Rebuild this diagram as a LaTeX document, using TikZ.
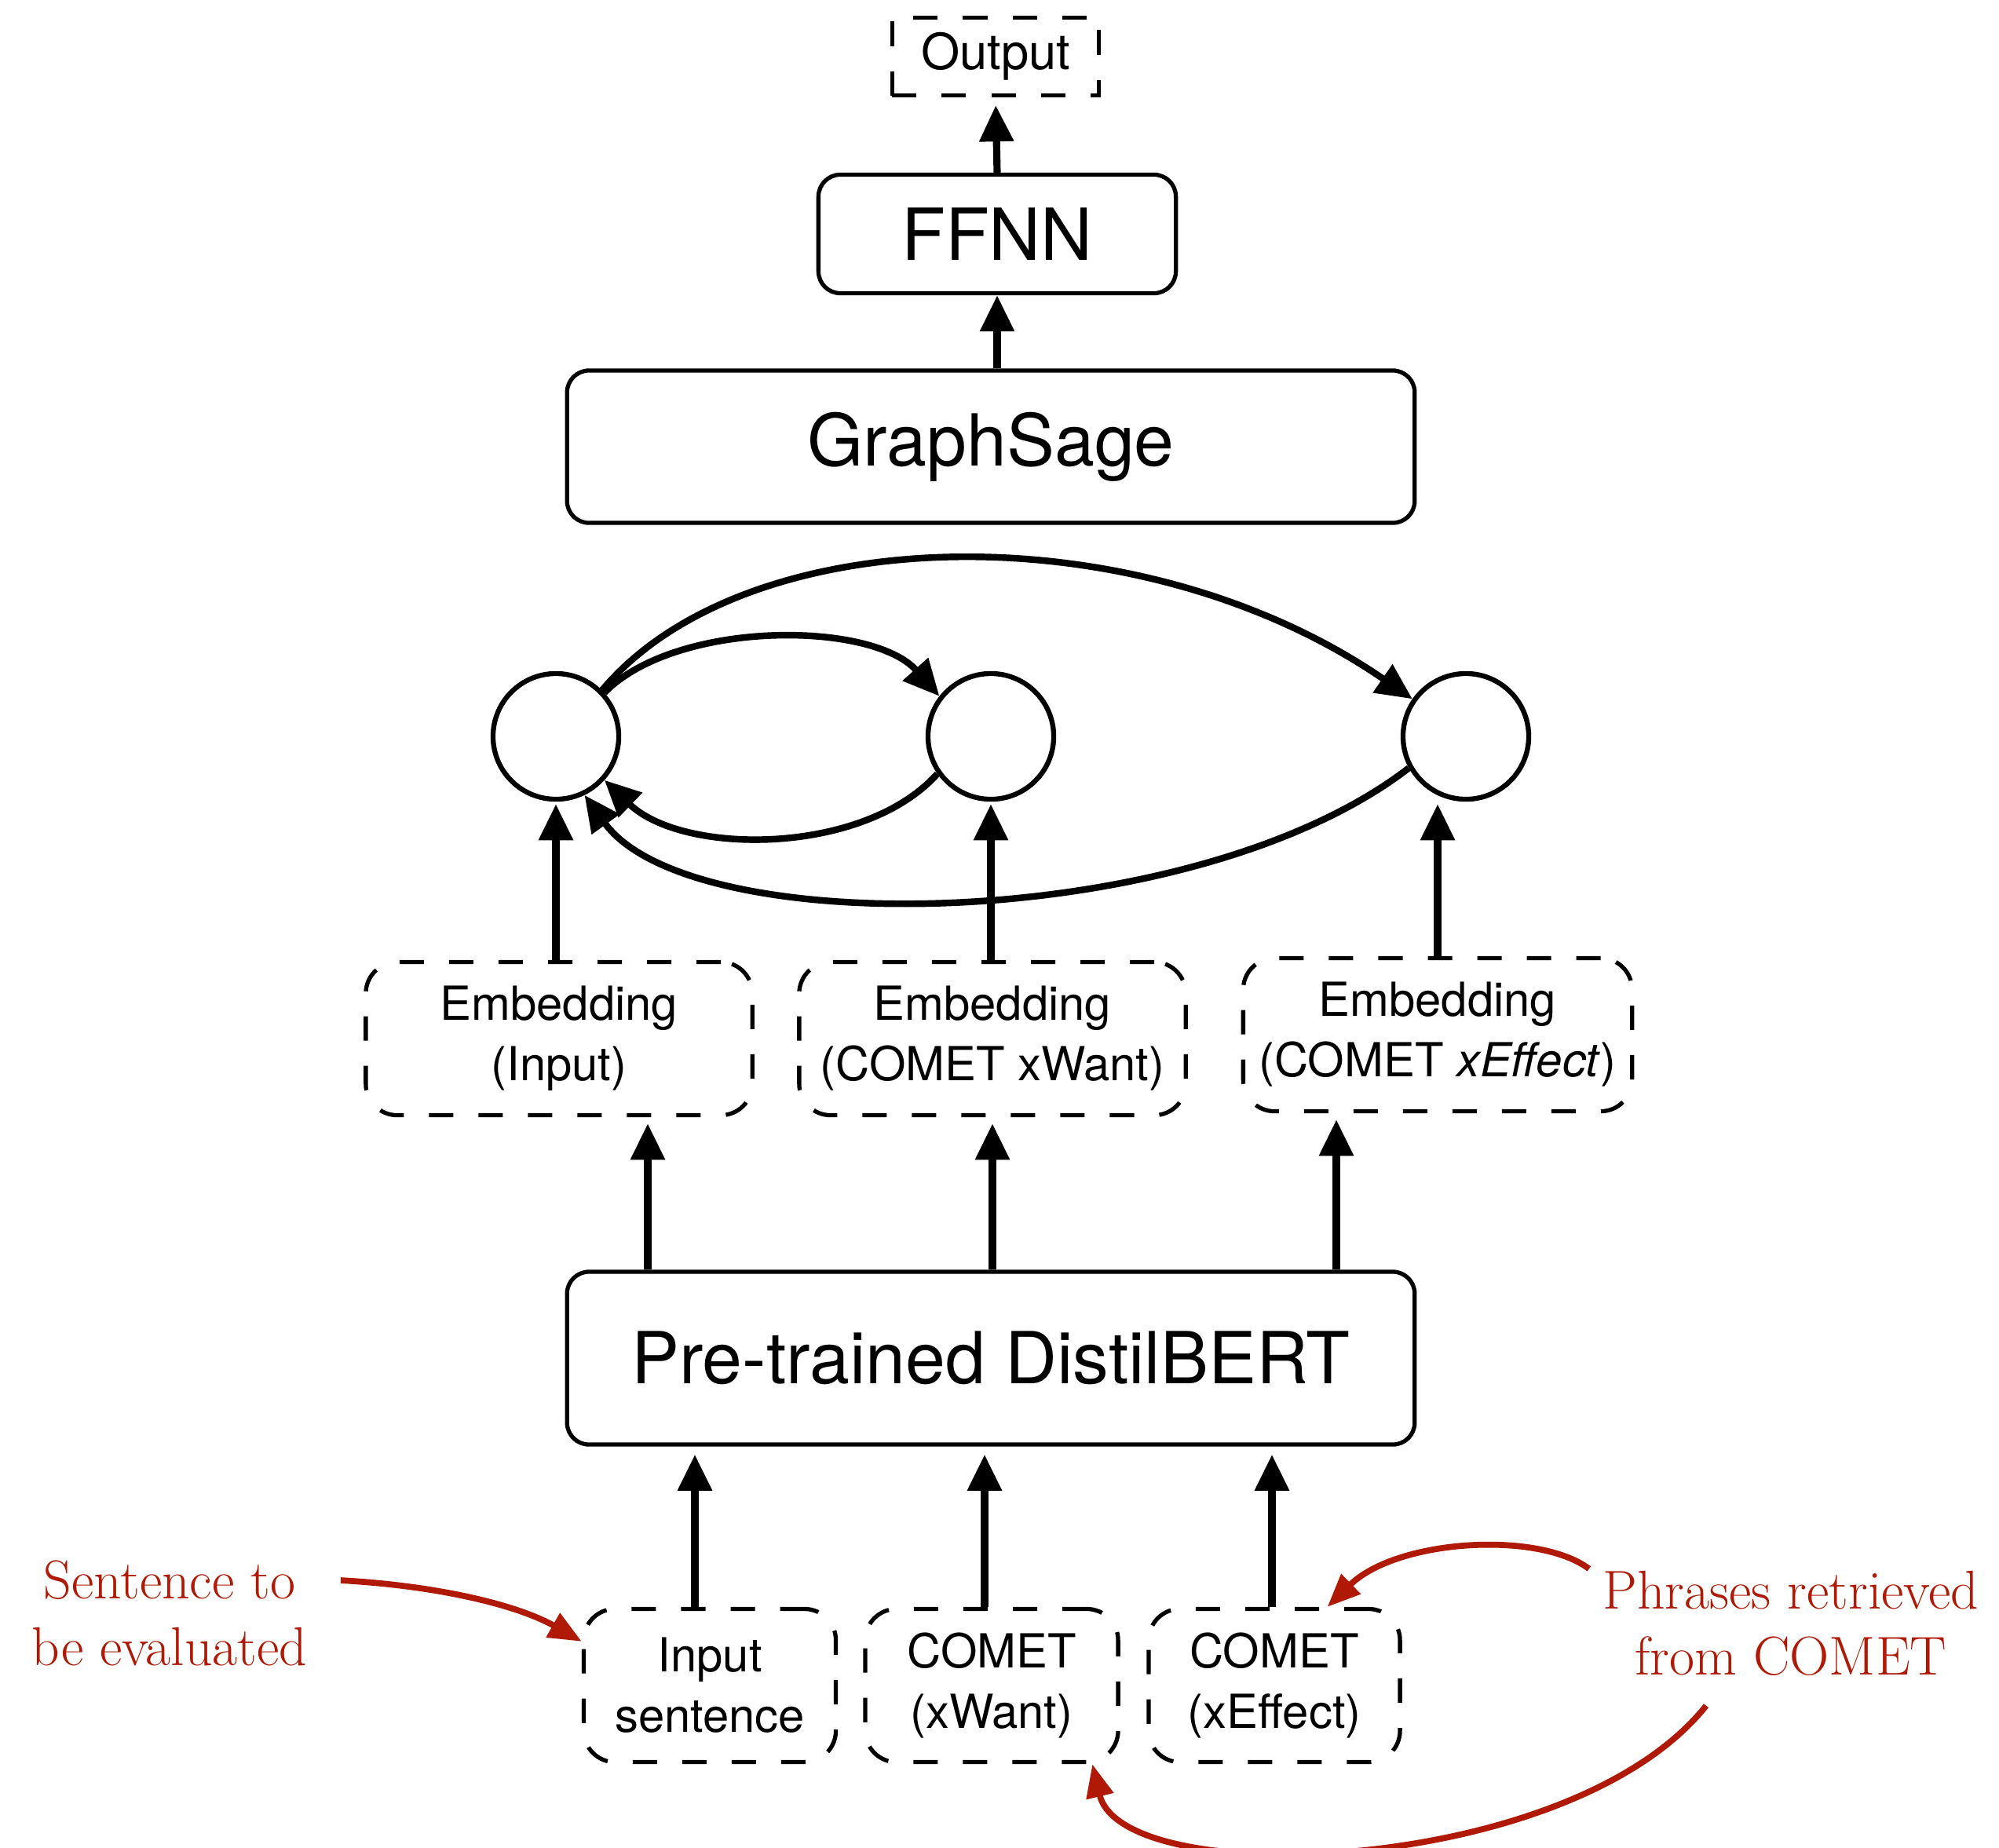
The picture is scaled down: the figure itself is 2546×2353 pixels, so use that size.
\documentclass[tikz,border=0pt]{standalone}
\usepackage{fontspec}
\newfontfamily\heros{TeX Gyre Heros}
\usetikzlibrary{arrows.meta,calc}
\definecolor{myred}{RGB}{175,25,5}
\newcommand\bigtxt{\heros\fontsize{26}{30}\selectfont}
\newcommand\medtxt{\heros\fontsize{17}{21.9}\selectfont}
\newcommand\outtxt{\heros\fontsize{18}{22}\selectfont}
\newcommand\redtxt{\fontsize{19.8}{24}\selectfont}
\tikzset{
  solidbox/.style={draw, line width=1.5pt, rounded corners=0.28cm, inner sep=0pt, font=\bigtxt},
  dashline/.style={line width=1.5pt, dash pattern=on 0.31cm off 0.32cm},
  dbox/.style={draw, dashline, rounded corners=0.4cm,
               inner sep=0pt, align=center, font=\medtxt, minimum height=1.95cm},
  circ/.style={circle, draw, line width=1.8pt, minimum size=1.6cm, inner sep=0pt},
  sk/.style={line width=2.6pt, -{Triangle[width=0.42cm,length=0.46cm]}},
  gedge/.style={line width=2.4pt, -{Triangle[width=0.42cm,length=0.46cm]}},
  redarrow/.style={draw=myred, line width=2.2pt, -{Triangle[width=0.34cm,length=0.42cm]}},
  redlabel/.style={text=myred, font=\redtxt, align=center, inner sep=2pt}
}
\begin{document}
\begin{tikzpicture}[x=0.01cm,y=-0.01cm]
\useasboundingbox (0,0) rectangle (2546,2353);

% boxes
\node[draw, dashline, inner sep=0pt,
      minimum width=2.63cm, minimum height=0.99cm, font=\outtxt] (out) at (1268,72) {Output};
\node[solidbox, minimum width=4.55cm, minimum height=1.51cm] (ffnn) at (1270,298) {FFNN};
\node[solidbox, minimum width=10.79cm, minimum height=1.94cm] (gs) at (1262,569) {GraphSage};

\node[circ] (c1) at (708,938) {};
\node[circ] (c2) at (1262,938) {};
\node[circ] (c3) at (1867,938) {};

\node[dbox, minimum width=4.92cm] (e1) at (712,1323) {Embedding\\(Input)};
\node[dbox, minimum width=4.92cm] (e2) at (1264,1323) {Embedding\\(COMET xWant)};
\node[dbox, minimum width=4.95cm] (e3) at (1831,1318) {Embedding\\(COMET \textit{xEffect})};

\node[solidbox, minimum width=10.79cm, minimum height=2.2cm] (distil) at (1262,1730) {Pre-trained DistilBERT};

\node[dbox, minimum width=3.21cm] (b1) at (904,2147) {Input\\sentence};
\node[dbox, minimum width=3.22cm] (b2) at (1263,2147) {COMET\\(xWant)};
\node[dbox, minimum width=3.20cm] (b3) at (1623,2147) {COMET\\(xEffect)};

\node[redlabel] (sent) at (216,2055) {Sentence to\\be evaluated};
\node[redlabel] (phr) at (2281,2068) {Phrases retrieved\\from COMET};

% vertical arrows
\draw[sk, shorten >=0.1cm] (ffnn.north) -- (out.south);
\draw[sk] (ffnn.south |- gs.north) -- (ffnn.south);

\draw[sk, shorten >=0.03cm] (c1.south |- e1.north) -- (c1.south);
\draw[sk, shorten >=0.03cm] (c2.south |- e2.north) -- (c2.south);
\draw[sk, shorten >=0.03cm] (e3.north) -- (e3.north |- c3.south);

\draw[sk, shorten >=0.08cm] ($(e1.south |- distil.north)+(113,0)$) -- ($(e1.south)+(113,0)$);
\draw[sk, shorten >=0.08cm] (e2.south |- distil.north) -- (e2.south);
\draw[sk, shorten >=0.08cm] ($(e3.south |- distil.north)+(-129,0)$) -- ($(e3.south)+(-129,0)$);

\draw[sk, shorten >=0.1cm] ($(b1.north)+(-19,0)$) -- ($(b1.north |- distil.south)+(-19,0)$);
\draw[sk, shorten >=0.1cm] ($(b2.north)+(-9,0)$) -- ($(b2.north |- distil.south)+(-9,0)$);
\draw[sk, shorten >=0.1cm] ($(b3.north)+(-3,0)$) -- ($(b3.north |- distil.south)+(-3,0)$);

% graph edges
\draw[gedge] (c1.42) .. controls (860,790) and (1110,790) .. (c2.142);
\draw[gedge] (c1.45) .. controls (950,660) and (1450,650) .. (c3.145);
\draw[gedge] (c2.215) .. controls (1100,1090) and (870,1090) .. (c1.-42);
\draw[gedge] (c3.209) .. controls (1520,1190) and (880,1200) .. (c1.-64);

% red annotations
\draw[redarrow] ($(sent.east)+(35,-42)$) .. controls (560,2020) and (660,2045) .. (b1.161);
\draw[redarrow] ($(phr.north west)+(-10,5)$) .. controls (1960,1950) and (1780,1960) .. (b3.56);
\draw[redarrow] ($(phr.south)+(-108,30)$) .. controls (2000,2390) and (1430,2410) .. (b2.-38);
\end{tikzpicture}
\end{document}
